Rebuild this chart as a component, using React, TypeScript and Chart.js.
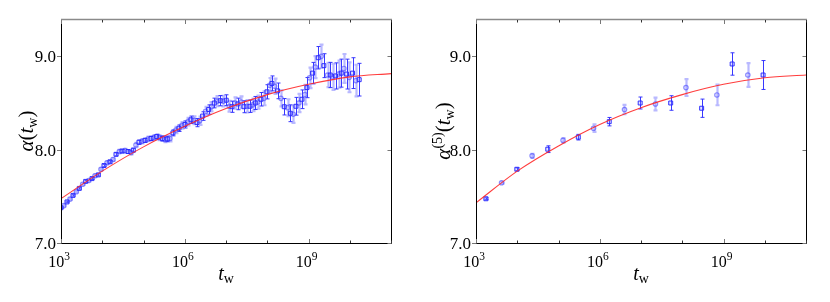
import React, { useEffect, useRef } from 'react';
import { Chart, registerables } from 'chart.js';

Chart.register(...registerables);

// ---------- data (x stored as log10 of t_w) ----------
const xTickExponents = [3, 6, 9];
const xMinorExponents = [3, 4, 5, 6, 7, 8, 9, 10, 11];
const yTickValues = [7, 8, 9];

const alphaLogTw = [
  3.0, 3.065, 3.145, 3.218, 3.291, 3.372, 3.444, 3.525, 3.598, 3.67,
  3.751, 3.824, 3.905, 3.969, 4.042, 4.115, 4.187, 4.26, 4.333, 4.414,
  4.478, 4.551, 4.624, 4.696, 4.753, 4.817, 4.89, 4.963, 5.036, 5.108,
  5.181, 5.246, 5.318, 5.383, 5.456, 5.52, 5.577, 5.641, 5.714, 5.787,
  5.859, 5.932, 6.005, 6.078, 6.15, 6.223, 6.296, 6.36, 6.433, 6.506,
  6.578, 6.643, 6.716, 6.788, 6.861, 6.934, 7.006, 7.079, 7.144, 7.217,
  7.289, 7.362, 7.435, 7.507, 7.58, 7.645, 7.709, 7.774, 7.847, 7.919,
  7.992, 8.057, 8.113, 8.178, 8.25, 8.331, 8.412, 8.493, 8.559, 8.63,
  8.695, 8.767, 8.84, 8.913, 8.961, 9.026, 9.099, 9.163, 9.236, 9.309,
  9.373, 9.462, 9.527, 9.583, 9.656, 9.729, 9.793, 9.858, 9.923, 9.987,
  10.068, 10.149, 10.229,
];
const alphaValues = [
  7.378, 7.4, 7.44, 7.47, 7.51, 7.55, 7.585, 7.63, 7.66, 7.67,
  7.69, 7.72, 7.73, 7.79, 7.83, 7.86, 7.87, 7.895, 7.95, 7.98,
  7.985, 7.99, 7.98, 7.97, 7.995, 8.05, 8.08, 8.09, 8.1, 8.115,
  8.12, 8.13, 8.14, 8.13, 8.12, 8.11, 8.115, 8.12, 8.18, 8.21,
  8.23, 8.26, 8.27, 8.3, 8.32, 8.315, 8.29, 8.31, 8.36, 8.41,
  8.43, 8.46, 8.5, 8.52, 8.525, 8.52, 8.53, 8.465, 8.46, 8.5,
  8.49, 8.51, 8.46, 8.465, 8.465, 8.48, 8.5, 8.51, 8.54, 8.55,
  8.62, 8.69, 8.71, 8.68, 8.63, 8.55, 8.46, 8.45, 8.39, 8.38,
  8.465, 8.5, 8.54, 8.59, 8.665, 8.77, 8.82, 8.885, 8.985, 9.0,
  8.9, 8.8, 8.8, 8.78, 8.79, 8.81, 8.82, 8.87, 8.81, 8.775,
  8.82, 8.74, 8.75,
];
const alphaErrors = [
  0.008, 0.008, 0.008, 0.008, 0.008, 0.008, 0.008, 0.008, 0.01, 0.01,
  0.01, 0.012, 0.012, 0.012, 0.012, 0.014, 0.014, 0.015, 0.016, 0.018,
  0.018, 0.018, 0.02, 0.02, 0.02, 0.022, 0.022, 0.022, 0.022, 0.024,
  0.024, 0.025, 0.026, 0.027, 0.028, 0.03, 0.03, 0.032, 0.032, 0.034,
  0.035, 0.036, 0.038, 0.04, 0.04, 0.042, 0.044, 0.045, 0.046, 0.048,
  0.05, 0.05, 0.052, 0.054, 0.055, 0.056, 0.058, 0.058, 0.06, 0.06,
  0.062, 0.062, 0.064, 0.065, 0.066, 0.068, 0.07, 0.07, 0.072, 0.074,
  0.076, 0.078, 0.08, 0.082, 0.084, 0.086, 0.088, 0.09, 0.09, 0.092,
  0.095, 0.098, 0.1, 0.105, 0.108, 0.11, 0.115, 0.118, 0.12, 0.125,
  0.128, 0.13, 0.135, 0.14, 0.14, 0.145, 0.15, 0.155, 0.16, 0.16,
  0.165, 0.17, 0.175,
];

const alpha5LogTw = [
  3.24, 3.62, 3.99, 4.36, 4.74, 5.11, 5.48, 5.85, 6.23, 6.6,
  6.98, 7.35, 7.72, 8.09, 8.47, 8.84, 9.21, 9.59, 9.96,
];
const alpha5Values = [
  7.474, 7.645, 7.79, 7.934, 8.005, 8.1, 8.134, 8.23, 8.3, 8.43,
  8.5, 8.49, 8.5, 8.665, 8.444, 8.586, 8.918, 8.8, 8.8,
];
const alpha5Errors = [
  0.01, 0.01, 0.015, 0.022, 0.036, 0.025, 0.03, 0.04, 0.045, 0.05,
  0.064, 0.068, 0.078, 0.09, 0.098, 0.11, 0.12, 0.128, 0.155,
];

const fitLogTw = [3, 4, 5, 6, 7, 8, 9, 10, 11];
const fitAlpha = [7.475, 7.77, 8.03, 8.25, 8.44, 8.59, 8.7, 8.78, 8.815];
const fitAlpha5 = [7.43, 7.77, 8.04, 8.27, 8.45, 8.59, 8.7, 8.77, 8.8];

// ---------- drawing helpers ----------
const SERIF = '"Liberation Serif", "Times New Roman", "DejaVu Serif", serif';

type Run = { text: string; size: number; italic?: boolean; dy?: number };

function fontOf(r: Run) {
  return `${r.italic ? 'italic ' : ''}${r.size}px ${SERIF}`;
}

function drawRuns(ctx: CanvasRenderingContext2D, runs: Run[], cx: number, baseline: number) {
  let total = 0;
  const widths = runs.map((r) => {
    ctx.font = fontOf(r);
    const w = ctx.measureText(r.text).width;
    total += w;
    return w;
  });
  let x = cx - total / 2;
  runs.forEach((r, i) => {
    ctx.font = fontOf(r);
    ctx.fillText(r.text, x, baseline + (r.dy || 0));
    x += widths[i];
  });
}

type PanelProps = {
  logTw: number[];
  values: number[];
  errors: number[];
  fitValues: number[];
  yTitle: Run[];
  yTitleX: number;
};

function Panel({ logTw, values, errors, fitValues, yTitle, yTitleX }: PanelProps) {
  const ref = useRef<HTMLCanvasElement>(null);

  useEffect(() => {
    if (!ref.current) return;
    const dark: { x: number; y: number }[] = [];
    const light: { x: number; y: number }[] = [];
    const darkErr: number[] = [];
    const lightErr: number[] = [];
    logTw.forEach((l, i) => {
      const pt = { x: Math.pow(10, l), y: values[i] };
      if (i % 2 === 0) {
        dark.push(pt);
        darkErr.push(errors[i]);
      } else {
        light.push(pt);
        lightErr.push(errors[i]);
      }
    });
    const fit = fitLogTw.map((l, i) => ({ x: Math.pow(10, l), y: fitValues[i] }));

    const errorBars = {
      id: 'errorBars',
      beforeDatasetsDraw(chart: any) {
        const ctx = chart.ctx as CanvasRenderingContext2D;
        const ys = chart.scales.y;
        const a = chart.chartArea;
        ctx.save();
        ctx.beginPath();
        ctx.rect(a.left, a.top, a.right - a.left, a.bottom - a.top);
        ctx.clip();
        chart.data.datasets.forEach((ds: any, di: number) => {
          if (!ds.errors) return;
          const meta = chart.getDatasetMeta(di);
          const isLight = ds.errStyle === 'light';
          ctx.strokeStyle = isLight ? 'rgba(100,100,255,0.45)' : 'rgba(45,45,255,0.95)';
          ctx.lineWidth = isLight ? 2.2 : 1;
          meta.data.forEach((el: any, j: number) => {
            const v = ds.data[j].y;
            const e = ds.errors[j];
            const x = Math.round(el.x) + 0.5;
            const y1 = ys.getPixelForValue(v + e);
            const y2 = ys.getPixelForValue(v - e);
            ctx.beginPath();
            ctx.moveTo(x, y1);
            ctx.lineTo(x, y2);
            ctx.moveTo(x - 2, y1);
            ctx.lineTo(x + 2, y1);
            ctx.moveTo(x - 2, y2);
            ctx.lineTo(x + 2, y2);
            ctx.stroke();
          });
        });
        ctx.restore();
      },
    };

    const frame = {
      id: 'frame',
      afterDraw(chart: any) {
        const ctx = chart.ctx as CanvasRenderingContext2D;
        const xs = chart.scales.x;
        const ys = chart.scales.y;
        const { left, right, top, bottom } = chart.chartArea;
        ctx.save();
        // spines
        ctx.lineWidth = 1;
        ctx.strokeStyle = '#000';
        ctx.beginPath();
        ctx.moveTo(left + 0.5, top);
        ctx.lineTo(left + 0.5, bottom + 0.5);
        ctx.lineTo(right + 0.5, bottom + 0.5);
        ctx.lineTo(right + 0.5, top);
        ctx.stroke();
        ctx.strokeStyle = '#8a8a8a';
        ctx.lineWidth = 1.5;
        ctx.beginPath();
        ctx.moveTo(left, top + 0.5);
        ctx.lineTo(right + 1, top + 0.5);
        ctx.stroke();

        // x ticks (inside, bottom and top)
        ctx.lineWidth = 1;
        xMinorExponents.forEach((e) => {
          const px = Math.round(xs.getPixelForValue(Math.pow(10, e))) + 0.5;
          const major = xTickExponents.includes(e);
          const len = major ? 4 : 2.5;
          ctx.strokeStyle = major ? '#777' : '#333';
          ctx.beginPath();
          ctx.moveTo(px, bottom);
          ctx.lineTo(px, bottom - len);
          ctx.moveTo(px, top + 1);
          ctx.lineTo(px, top + 1 + len);
          ctx.stroke();
        });
        // y ticks
        ctx.strokeStyle = '#777';
        ctx.lineWidth = 1.2;
        yTickValues.forEach((v) => {
          const py = Math.round(ys.getPixelForValue(v)) + 0.5;
          ctx.beginPath();
          ctx.moveTo(left - 4, py);
          ctx.lineTo(left, py);
          ctx.moveTo(right - 3.5, py);
          ctx.lineTo(right, py);
          ctx.stroke();
        });

        ctx.fillStyle = '#000';
        ctx.textBaseline = 'alphabetic';
        // y tick labels
        ctx.textAlign = 'right';
        ctx.font = `17px ${SERIF}`;
        yTickValues.forEach((v) => {
          const py = ys.getPixelForValue(v);
          ctx.fillText(v.toFixed(1), left - 5, py + 6);
        });
        // x tick labels 10^n
        ctx.textAlign = 'left';
        xTickExponents.forEach((e) => {
          const px = xs.getPixelForValue(Math.pow(10, e));
          drawRuns(ctx, [
            { text: '10', size: 16 },
            { text: String(e), size: 11.5, dy: -7.5 },
          ], px - 2, 267);
        });
        // x title
        drawRuns(ctx, [
          { text: 't', size: 20, italic: true },
          { text: 'w', size: 14, dy: 3 },
        ], (left + right) / 2, 280);
        // y title
        ctx.save();
        ctx.translate(yTitleX, (top + bottom) / 2);
        ctx.rotate(-Math.PI / 2);
        drawRuns(ctx, yTitle, 0, 0);
        ctx.restore();
        ctx.restore();
      },
    };

    const chart = new Chart(ref.current, {
      type: 'scatter',
      data: {
        datasets: [
          {
            type: 'line',
            data: fit,
            borderColor: 'rgba(255,40,40,0.9)',
            borderWidth: 1.1,
            pointRadius: 0,
            cubicInterpolationMode: 'monotone',
            fill: false,
            order: 0,
          } as any,
          {
            data: light,
            errors: lightErr,
            errStyle: 'light',
            pointStyle: 'circle',
            pointRadius: 2.2,
            borderWidth: 1.2,
            borderColor: 'rgba(70,70,255,0.6)',
            backgroundColor: 'rgba(140,140,255,0.15)',
            order: 2,
          } as any,
          {
            data: dark,
            errors: darkErr,
            errStyle: 'dark',
            pointStyle: 'rect',
            pointRadius: 2.8,
            borderWidth: 1,
            borderColor: 'rgba(40,40,255,0.95)',
            backgroundColor: 'rgba(140,140,255,0.25)',
            order: 1,
          } as any,
        ],
      },
      options: {
        animation: false,
        responsive: false,
        maintainAspectRatio: false,
        devicePixelRatio: 1,
        events: [],
        layout: { padding: { left: 61, right: 24, top: 19, bottom: 59 } },
        plugins: { legend: { display: false }, tooltip: { enabled: false } },
        scales: {
          x: { type: 'logarithmic', min: 1e3, max: 1e11, display: false },
          y: { type: 'linear', min: 7.0, max: 9.4, display: false },
        },
      } as any,
      plugins: [errorBars, frame],
    });
    return () => chart.destroy();
  }, []);

  return <canvas ref={ref} width={415} height={302} style={{ display: 'block', width: 415, height: 302 }} />;
}

export default function App() {
  return (
    <div style={{ position: 'absolute', left: 0, top: 0, width: 830, height: 302, background: '#fff', display: 'flex' }}>
      <Panel
        logTw={alphaLogTw}
        values={alphaValues}
        errors={alphaErrors}
        fitValues={fitAlpha}
        yTitleX={33}
        yTitle={[
          { text: 'α', size: 21, italic: true },
          { text: '(', size: 21 },
          { text: 't', size: 21, italic: true },
          { text: 'w', size: 14, dy: 4 },
          { text: ')', size: 21 },
        ]}
      />
      <Panel
        logTw={alpha5LogTw}
        values={alpha5Values}
        errors={alpha5Errors}
        fitValues={fitAlpha5}
        yTitleX={35}
        yTitle={[
          { text: 'α', size: 21, italic: true },
          { text: '(5)', size: 14, dy: -8 },
          { text: '(', size: 21 },
          { text: 't', size: 21, italic: true },
          { text: 'w', size: 14, dy: 4 },
          { text: ')', size: 21 },
        ]}
      />
    </div>
  );
}
